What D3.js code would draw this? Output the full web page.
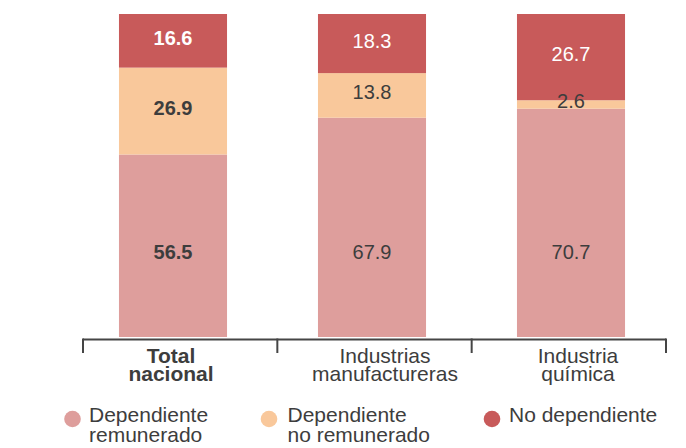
<!DOCTYPE html>
<html>
<head>
<meta charset="utf-8">
<script src="https://cdn.jsdelivr.net/npm/d3@7"></script>
<style>
  html, body { margin: 0; padding: 0; background: #fff; }
  svg { display: block; font-family: "Liberation Sans", Arial, sans-serif; }
</style>
</head>
<body>
<div id="chart"></div>
<script>
// data
const categories = ["Total nacional", "Industrias manufactureras", "Industria química"]
const categoryLines = [["Total", "nacional"], ["Industrias", "manufactureras"], ["Industria", "química"]]
const seriesNames = ["Dependiente remunerado", "Dependiente no remunerado", "No dependiente"]
const legendLines = [["Dependiente", "remunerado"], ["Dependiente", "no remunerado"], ["No dependiente"]]
const remunerado = [56.5, 67.9, 70.7]
const noRemunerado = [26.9, 13.8, 2.6]
const noDependiente = [16.6, 18.3, 26.7]

const colors = ["#de9e9c", "#f9c89b", "#c85a5a"]
const textDark = "#3d3d3d"

const width = 686, height = 448

const svg = d3.select("#chart").append("svg")
  .attr("width", width)
  .attr("height", height)

const rows = categories.map((c, i) => ({
  cat: c,
  s0: remunerado[i],
  s1: noRemunerado[i],
  s2: noDependiente[i]
}))

const stack = d3.stack().keys(["s0", "s1", "s2"])
const layers = stack(rows)

const y = d3.scaleLinear().domain([0, 100]).range([337, 14])

// bar positions
const x = d3.scaleBand()
  .domain(categories)
  .range([73.5, 670.5])
  .paddingInner(0.457)
  .paddingOuter(0.2285)

// axis bands (ticks at the band edges)
const xAxis = d3.scaleBand()
  .domain(categories)
  .range([83, 666])
  .padding(0)

layers.forEach((layer, li) => {
  svg.append("g")
    .attr("fill", colors[li])
    .selectAll("rect")
    .data(layer)
    .join("rect")
    .attr("x", d => x(d.data.cat))
    .attr("width", x.bandwidth())
    .attr("y", d => y(d[1]))
    .attr("height", d => y(d[0]) - y(d[1]))
})

// value labels
const labelG = svg.append("g")
  .attr("text-anchor", "middle")
  .attr("font-size", 20)
layers.forEach((layer, li) => {
  labelG.selectAll(null)
    .data(layer)
    .join("text")
    .attr("x", d => x(d.data.cat) + x.bandwidth() / 2)
    .attr("y", d => li === 0 ? y(26.3) : (y(d[0]) + y(d[1])) / 2 - 3)
    .attr("dy", "0.35em")
    .attr("fill", li === 2 ? "#fff" : textDark)
    .attr("font-weight", (d, i) => i === 0 ? "bold" : "normal")
    .text(d => d3.format(".1f")(d[1] - d[0]))
})

// axis
const axisY = 339.5
const axisG = svg.append("g")
  .attr("stroke", "#454545")
  .attr("stroke-width", 2)
axisG.append("line")
  .attr("x1", xAxis.range()[0]).attr("x2", xAxis.range()[1])
  .attr("y1", axisY).attr("y2", axisY)
const edges = categories.map(c => xAxis(c)).concat([xAxis.range()[1]])
axisG.selectAll(null)
  .data(edges)
  .join("line")
  .attr("x1", d => d).attr("x2", d => d)
  .attr("y1", axisY - 1).attr("y2", 353)

const labelShift = [-2, 13, 7]
const catG = svg.append("g")
  .attr("text-anchor", "middle")
  .attr("font-size", 21)
  .attr("fill", textDark)
categories.forEach((c, i) => {
  const t = catG.append("text")
    .attr("font-weight", i === 0 ? "bold" : "normal")
  categoryLines[i].forEach((line, j) => {
    t.append("tspan")
      .attr("x", x(c) + x.bandwidth() / 2 + labelShift[i])
      .attr("y", 363 + j * 18)
      .text(line)
  })
})

// legend
const legendX = [72.5, 269, 492]
const legend = svg.append("g")
  .attr("font-size", 21)
  .attr("fill", textDark)
seriesNames.forEach((name, i) => {
  const g = legend.append("g").attr("transform", `translate(${legendX[i]},419)`)
  g.append("circle").attr("r", 8.3).attr("fill", colors[i])
  const t = g.append("text")
  legendLines[i].forEach((line, j) => {
    t.append("tspan")
      .attr("x", 17 - (i === 0 ? 0.5 : 0) + (i === 1 ? 1.5 : 0))
      .attr("y", 3 + j * 20)
      .text(line)
  })
})
</script>
</body>
</html>
